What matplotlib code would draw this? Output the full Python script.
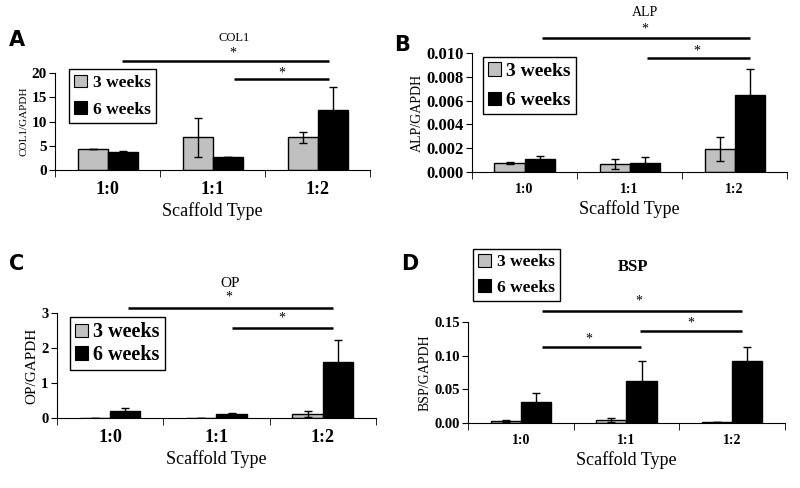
import numpy as np
import matplotlib.pyplot as plt
from matplotlib.patches import Patch

# --- data
scaffolds = ['1:0', '1:1', '1:2']
weeks = ['3 weeks', '6 weeks']

col1_3w = [4.4, 6.7, 6.7]
col1_3w_err = [0.0, 4.1, 1.2]
col1_6w = [3.6, 2.6, 12.3]
col1_6w_err = [0.3, 0.0, 4.8]

alp_3w = [0.00075, 0.00065, 0.0019]
alp_3w_err = [0.0001, 0.0004, 0.001]
alp_6w = [0.00105, 0.00075, 0.0065]
alp_6w_err = [0.0003, 0.0005, 0.0022]

op_3w = [0.02, 0.02, 0.13]
op_3w_err = [0.0, 0.0, 0.09]
op_6w = [0.22, 0.13, 1.6]
op_6w_err = [0.06, 0.02, 0.65]

bsp_3w = [0.003, 0.005, 0.001]
bsp_3w_err = [0.001, 0.003, 0.0]
bsp_6w = [0.032, 0.062, 0.092]
bsp_6w_err = [0.012, 0.030, 0.021]

GRAY = '#c0c0c0'
SERIF = 'Liberation Serif'
plt.rcParams['font.family'] = SERIF

fig = plt.figure(figsize=(8, 4.88), dpi=100)


def panel(rect, v3, e3, v6, e6, ylim, yticks, yfmt, ylabel, title, title_xy,
          tick_fs, xtick_fs, ylab_fs, title_fs, title_bold):
    ax = fig.add_axes(rect)
    x = np.arange(len(scaffolds))
    w = 0.286
    ekw = dict(ecolor='black', elinewidth=1, capsize=3, capthick=1)
    ax.bar(x - w / 2, v3, w, yerr=e3, color=GRAY, edgecolor='black', linewidth=1, error_kw=ekw)
    ax.bar(x + w / 2, v6, w, yerr=e6, color='black', edgecolor='black', linewidth=1, error_kw=ekw)
    ax.set_xlim(-0.5, 2.5)
    ax.set_ylim(*ylim)
    ax.set_yticks(yticks)
    ax.set_yticklabels([yfmt.format(t) for t in yticks], fontsize=tick_fs, fontweight='bold')
    ax.set_xticks(x)
    ax.set_xticklabels(scaffolds, fontsize=xtick_fs, fontweight='bold')
    ax.set_xticks([-0.5, 0.5, 1.5, 2.5], minor=True)
    ax.tick_params(axis='x', which='major', length=0, pad=8)
    ax.tick_params(axis='x', which='minor', length=5, direction='out')
    ax.tick_params(axis='y', length=4, direction='out', pad=2)
    for s in ['top', 'right']:
        ax.spines[s].set_visible(False)
    ax.set_xlabel('Scaffold Type', fontsize=13, labelpad=3)
    ax.set_ylabel(ylabel, fontsize=ylab_fs, labelpad=2)
    ax.text(title_xy[0], title_xy[1], title, fontsize=title_fs, ha='center', va='center',
            fontweight='bold' if title_bold else 'normal', clip_on=False)
    return ax


def sig(ax, x0, x1, y, sx, sy):
    ax.plot([x0, x1], [y, y], color='black', lw=1.8, clip_on=False, solid_capstyle='butt')
    ax.text(sx, sy, '*', fontsize=10, ha='center', va='center', clip_on=False)


def legend(ax, anchor, fs, spacing):
    handles = [Patch(facecolor=GRAY, edgecolor='black', lw=0.8),
               Patch(facecolor='black', edgecolor='black', lw=0.8)]
    k = 12.5 / fs  # keep the square marker and padding about the same size in pixels
    ax.legend(handles, weeks, loc='upper left', bbox_to_anchor=anchor, fancybox=False,
              edgecolor='black', framealpha=1, handlelength=0.75 * k, handleheight=0.75 * k,
              handletextpad=0.3 * k, borderpad=0.3 * k, labelspacing=spacing, borderaxespad=0,
              prop={'family': SERIF, 'weight': 'bold', 'size': fs})


# A: COL1
axA = panel([0.069, 0.652, 0.394, 0.198], col1_3w, col1_3w_err, col1_6w, col1_6w_err,
            (0, 20), [0, 5, 10, 15, 20], '{:g}', 'COL1/GAPDH', 'COL1', (1.2, 27.2),
            11, 13, 8, 9, False)
sig(axA, 0.138, 2.11, 22.5, 1.195, 24.1)
sig(axA, 1.205, 2.11, 18.8, 1.66, 20.0)
legend(axA, (0.044, 1.04), 12.5, 0.6)

# B: ALP
axB = panel([0.59, 0.648, 0.394, 0.243], alp_3w, alp_3w_err, alp_6w, alp_6w_err,
            (0, 0.010), [0, 0.002, 0.004, 0.006, 0.008, 0.010], '{:.3f}', 'ALP/GAPDH', 'ALP',
            (1.15, 0.01345), 12, 10, 10, 10, False)
sig(axB, 0.167, 2.148, 0.01126, 1.148, 0.0120)
sig(axB, 1.167, 2.148, 0.00958, 1.64, 0.0102)
legend(axB, (0.035, 0.966), 14, 0.6)

# C: OP
axC = panel([0.071, 0.143, 0.399, 0.215], op_3w, op_3w_err, op_6w, op_6w_err,
            (0, 3), [0, 1, 2, 3], '{:g}', 'OP/GAPDH', 'OP', (1.13, 3.86),
            10.5, 13, 11, 11, False)
sig(axC, 0.168, 2.096, 3.14, 1.118, 3.47)
sig(axC, 1.146, 2.096, 2.57, 1.617, 2.85)
legend(axC, (0.04, 0.962), 14.5, 0.12)

# D: BSP
axD = panel([0.585, 0.133, 0.396, 0.207], bsp_3w, bsp_3w_err, bsp_6w, bsp_6w_err,
            (0, 0.15), [0, 0.05, 0.10, 0.15], '{:.2f}', 'BSP/GAPDH', 'BSP', (1.06, 0.232),
            10.5, 10, 10, 12, True)
sig(axD, 0.2, 2.09, 0.1664, 1.118, 0.181)
sig(axD, 1.127, 2.09, 0.1367, 1.61, 0.149)
sig(axD, 0.2, 1.137, 0.1129, 0.645, 0.125)
legend(axD, (0.016, 1.725), 12.5, 0.5)

# panel letters
for letter, (px, py) in zip('ABCD', [(17, 40), (402, 45), (17, 264), (410, 264)]):
    fig.text(px / 800, 1 - py / 488, letter, fontsize=15, fontweight='bold',
             family='DejaVu Sans', ha='center', va='center')

fig.savefig('out.png', dpi=100)
